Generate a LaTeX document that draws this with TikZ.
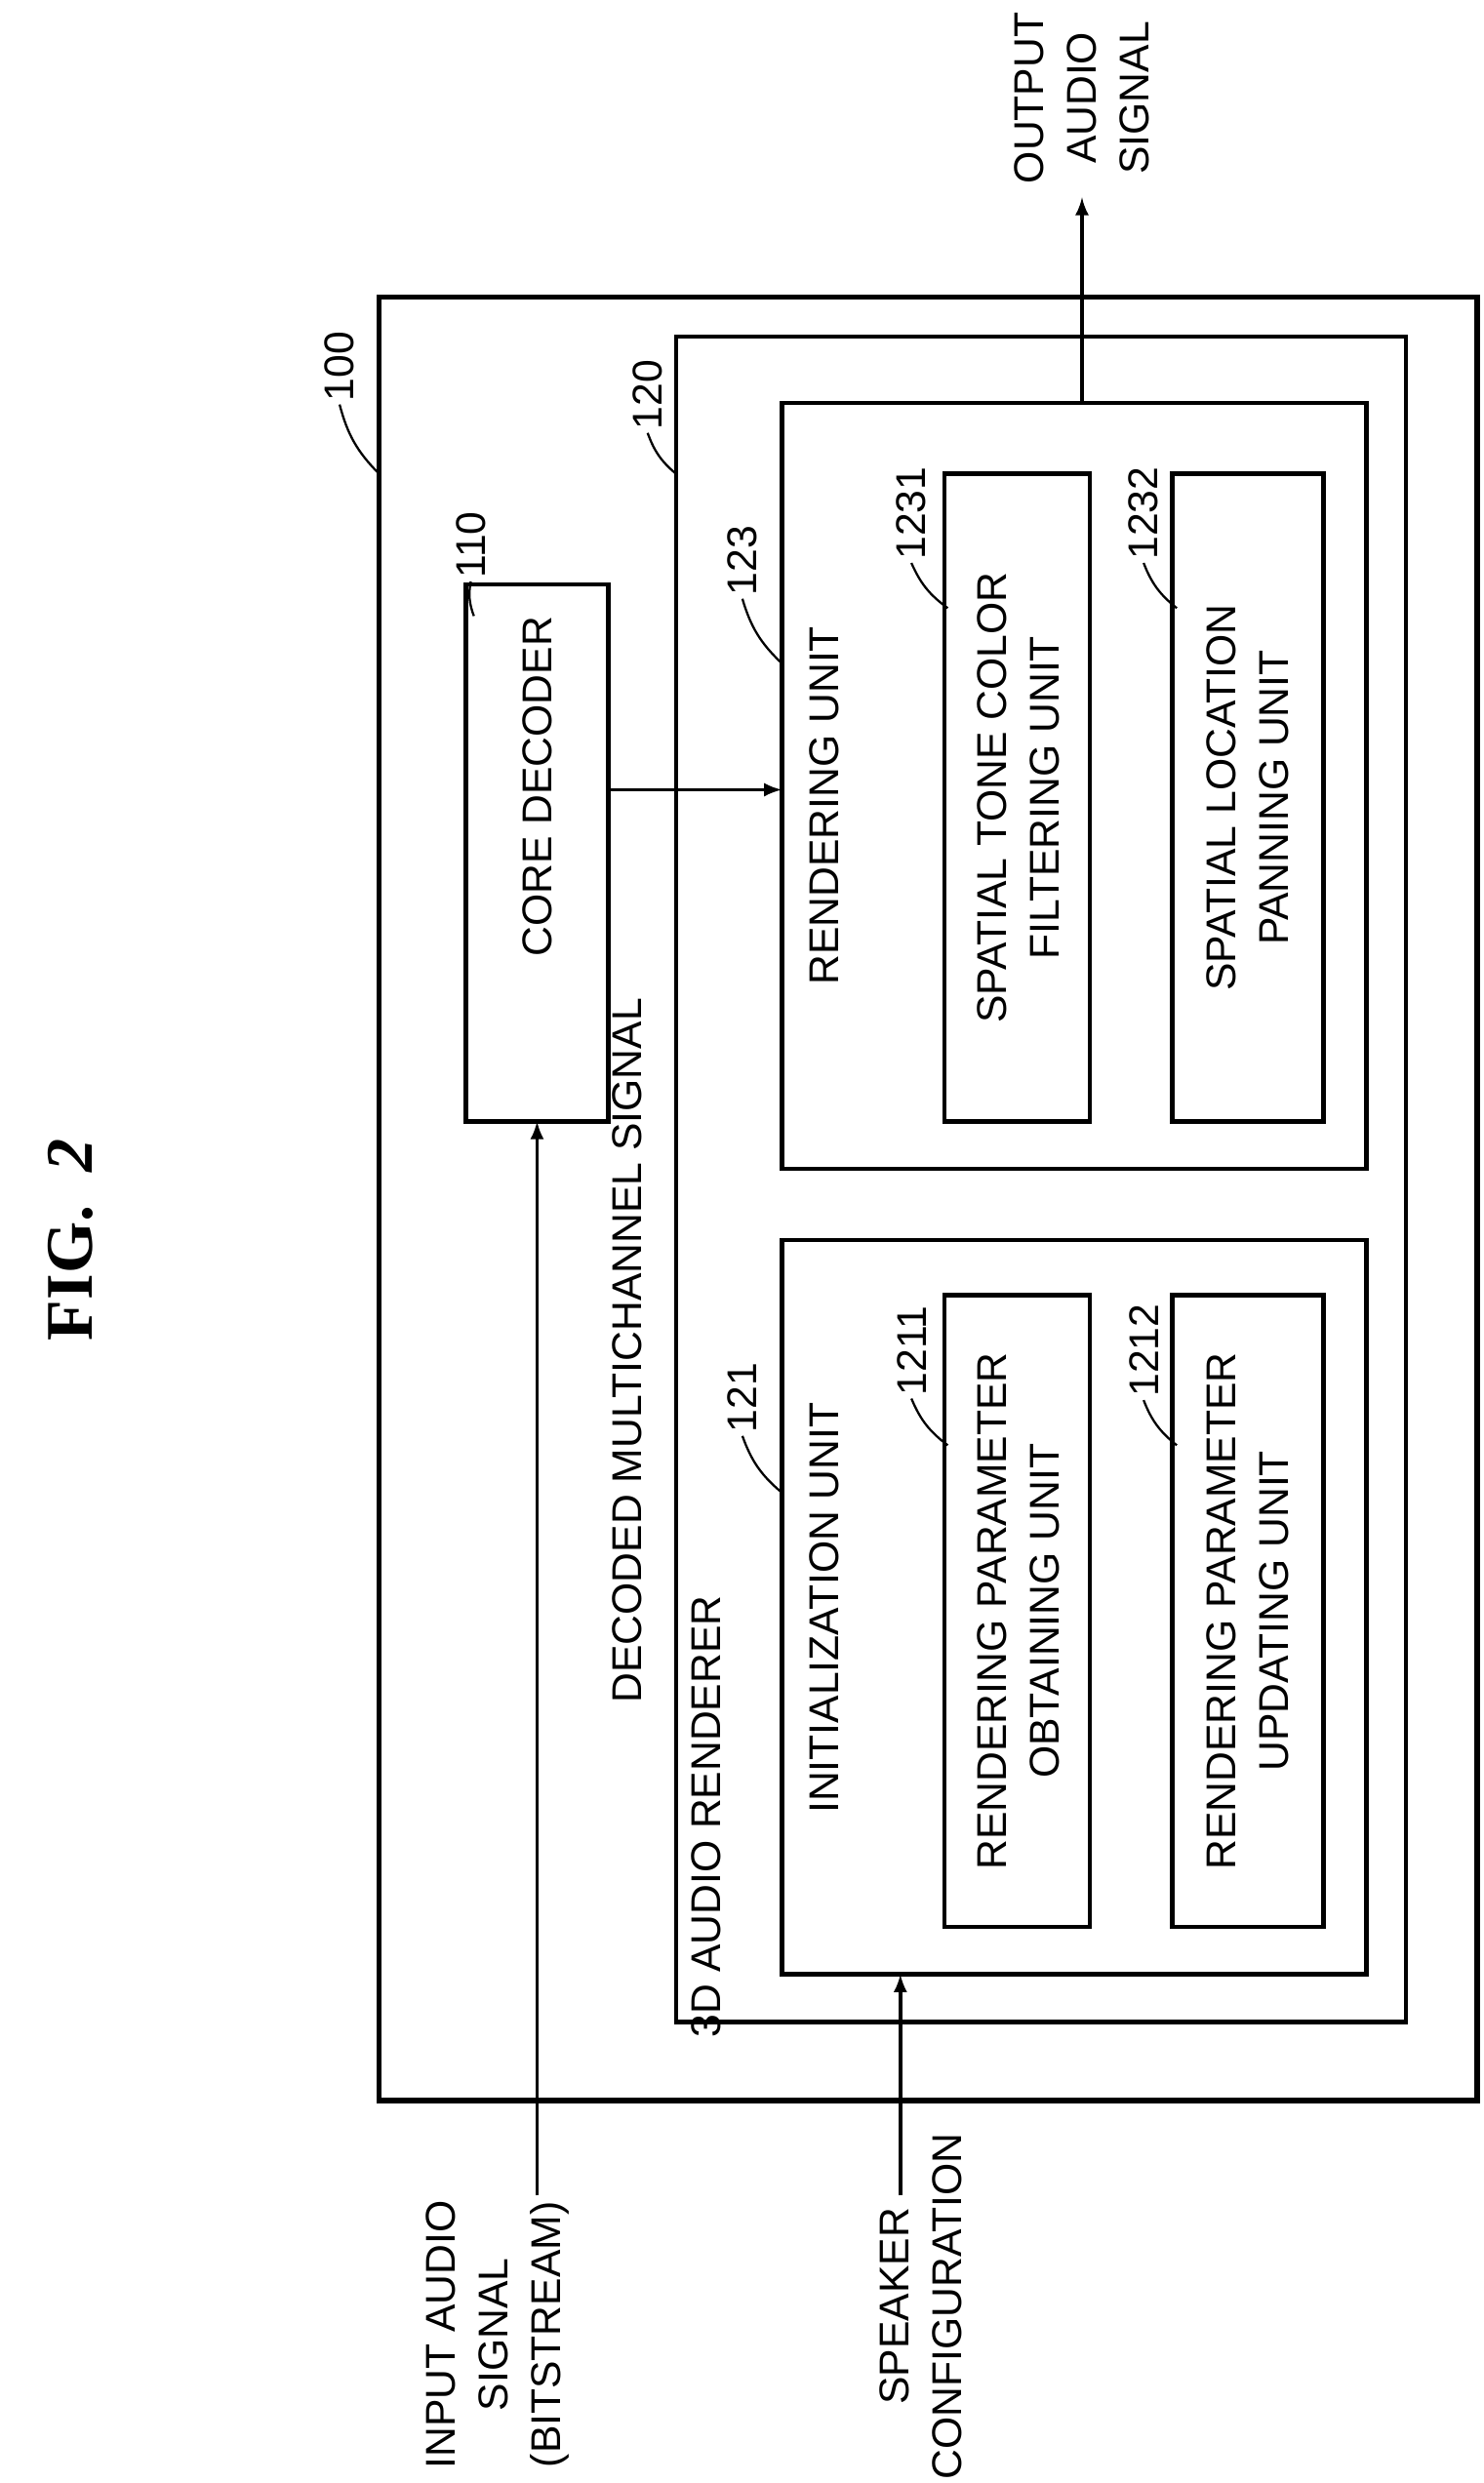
\documentclass[tikz,border=0pt]{standalone}
\usepackage{fontspec}
\setmainfont{Liberation Sans}
\newfontfamily\figfont{Liberation Serif}
\usetikzlibrary{positioning}
\begin{document}
\begin{tikzpicture}[x=0.02cm,y=-0.02cm,
    box/.style={draw,line width=1.6pt},
    txt/.style={rotate=90,align=center,font=\fontsize{15}{19}\selectfont,inner sep=0pt},
    lbl/.style={rotate=90,font=\fontsize{15}{17}\selectfont,inner sep=1pt},
    sig/.style={line width=1.2pt,-latex}]
    \useasboundingbox (0,0) rectangle (939,1572);
    \node[rotate=90,font=\fontsize{24}{26}\selectfont\bfseries\figfont] (fig) at (45,785) {FIG.~~\textit{2}};
    % boxes
    \draw[box,line width=2pt] (240,188) rectangle (935,1330);
    \draw[box] (428,213) rectangle (890,1280);
    \draw[box] (295,370) rectangle (385,710);
    \draw[box] (495,255) rectangle (865,740);
    \draw[box] (598,300) rectangle (690,710);
    \draw[box] (742,300) rectangle (838,710);
    \draw[box] (495,785) rectangle (865,1250);
    \draw[box] (598,820) rectangle (690,1220);
    \draw[box] (742,820) rectangle (838,1220);
    % texts
    \node[txt] (core) at (340,498) {CORE DECODER};
    \node[txt] (dec) at (397,855) {DECODED MULTICHANNEL SIGNAL};
    \node[txt] (ren) at (447,1150) {3D AUDIO RENDERER};
    \node[txt] (rend) at (522,510) {RENDERING UNIT};
    \node[txt] (tone) at (645,505) {SPATIAL TONE COLOR\\FILTERING UNIT};
    \node[txt] (pan) at (790,505) {SPATIAL LOCATION\\PANNING UNIT};
    \node[txt] (init) at (522,1018) {INITIALIZATION UNIT};
    \node[txt] (obt) at (645,1020) {RENDERING PARAMETER\\OBTAINING UNIT};
    \node[txt] (upd) at (790,1020) {RENDERING PARAMETER\\UPDATING UNIT};
    \node[txt] (in) at (315,1478) {INPUT AUDIO\\SIGNAL\\(BITSTREAM)};
    \node[txt] (spk) at (583,1460) {SPEAKER\\CONFIGURATION};
    \node[txt] (out) at (685,62) {OUTPUT\\AUDIO\\SIGNAL};
    % reference numbers
    \node[lbl] (n100) at (215,232) {100};
    \node[lbl] (n120) at (410,250) {120};
    \node[lbl] (n110) at (298,345) {110};
    \node[lbl] (n123) at (470,355) {123};
    \node[lbl] (n1231) at (577,325) {1231};
    \node[lbl] (n1232) at (724,325) {1232};
    \node[lbl] (n121) at (470,885) {121};
    \node[lbl] (n1211) at (577,855) {1211};
    \node[lbl] (n1212) at (724,855) {1212};
    \draw[thick] (n100.west) to[bend right=15] (240,300);
    \draw[thick] (n120.west) to[bend right=15] (428,300);
    \draw[thick] (n110.west) to[bend right=15] (300,390);
    \draw[thick] (n123.west) to[bend right=15] (495,420);
    \draw[thick] (n1231.west) to[bend right=15] (600,385);
    \draw[thick] (n1232.west) to[bend right=15] (745,385);
    \draw[thick] (n121.west) to[bend right=15] (495,945);
    \draw[thick] (n1211.west) to[bend right=15] (600,915);
    \draw[thick] (n1212.west) to[bend right=15] (745,915);
    % signals
    \draw[sig] (340,1390) -- (340,710);
    \draw[sig] (385,500) -- (495,500);
    \draw[sig] (685,255) -- (685,125);
    \draw[sig] (570,1390) -- (570,1250);
\end{tikzpicture}
\end{document}
